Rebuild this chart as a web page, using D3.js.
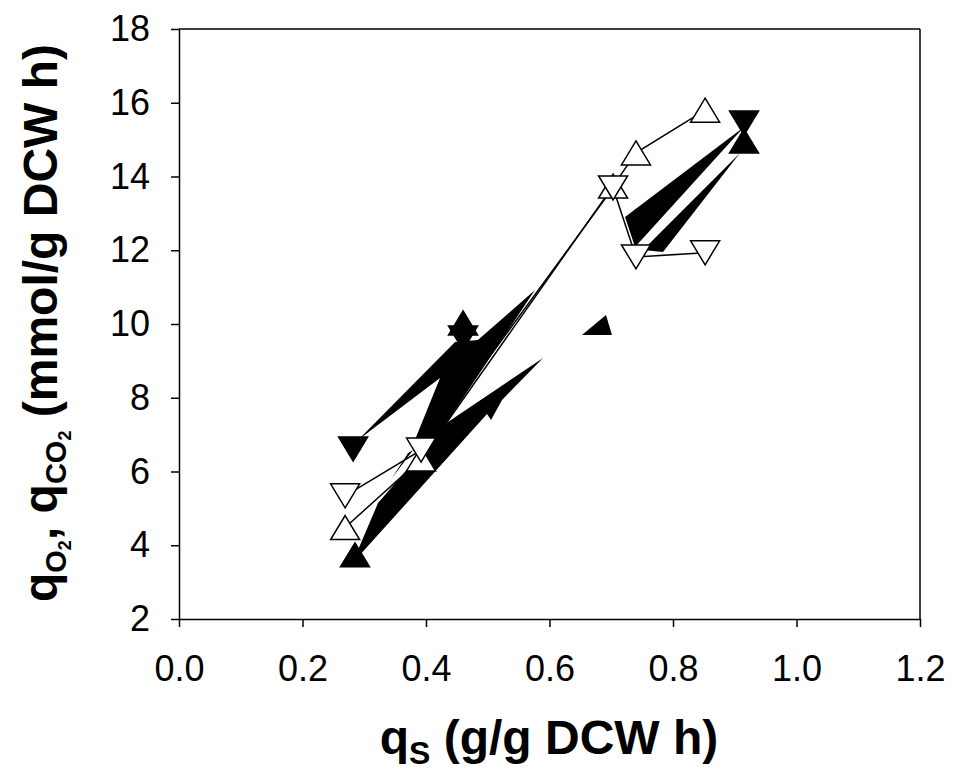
<!DOCTYPE html>
<html><head><meta charset="utf-8">
<script src="https://cdn.jsdelivr.net/npm/d3@7"></script>
<style>body{margin:0;background:#fff}</style>
</head><body><svg id="c" width="956" height="770"></svg>
<script>
// ---- data ----
const xTicks = [0, 0.2, 0.4, 0.6, 0.8, 1.0, 1.2];
const yTicks = [2, 4, 6, 8, 10, 12, 14, 16, 18];

const openUpX   = [0.269, 0.392, 0.703, 0.740, 0.852];
const openUpY   = [4.48, 6.34, 13.74, 14.64, 15.80];
const openDownX = [0.269, 0.392, 0.703, 0.740, 0.852];
const openDownY = [5.34, 6.58, 13.69, 11.82, 11.93];

const filledUpX   = [0.285, 0.460, 0.915];
const filledUpY   = [3.74, 10.03, 14.96];
const filledDownX = [0.282, 0.460, 0.915];
const filledDownY = [6.61, 9.62, 15.45];

// connecting "lines" of the filled series, as rendered (filled wedges), vertices in data units
const filledDownPatches = [
  [[0.290,6.854],[0.447,9.512],[0.484,9.566],[0.5765,10.922],[0.4146,6.854],[0.382,6.854],[0.4227,8.536]],
  [[0.371,6.502],[0.345,5.824],[0.379,6.583]],
  [[0.915,15.342],[0.7223,12.902],[0.7385,12.088]]
];
const filledUpPatches = [
  [[0.285,3.681],[0.3223,5.146],[0.4356,7.342],[0.5895,9.078],[0.5231,7.939],[0.5053,7.397],[0.4988,7.559],[0.2899,3.681]],
  [[0.6526,9.702],[0.6915,10.244],[0.7012,9.702]],
  [[0.9085,14.637],[0.7514,12.007],[0.7838,11.953]]
];

// ---- chart ----
const svg = d3.select("#c");
const x = d3.scaleLinear().domain([0, 1.2]).range([179, 920]);
const y = d3.scaleLinear().domain([2, 18]).range([619, 29]);
const FONT = "'Liberation Sans', Arial, sans-serif";

// frame (top, right)
svg.append("line").attr("x1", x(0)).attr("x2", x(1.2)).attr("y1", y(18)).attr("y2", y(18))
  .attr("stroke", "#000").attr("stroke-width", 1.5);
svg.append("line").attr("x1", x(1.2)).attr("x2", x(1.2)).attr("y1", y(18)).attr("y2", y(2))
  .attr("stroke", "#000").attr("stroke-width", 1.5);

const gx = svg.append("g").attr("transform", `translate(0,${y(2)})`)
  .call(d3.axisBottom(x).tickValues(xTicks).tickSize(8).tickSizeOuter(0).tickPadding(28).tickFormat(d3.format(".1f")));
const gy = svg.append("g").attr("transform", `translate(${x(0)},0)`)
  .call(d3.axisLeft(y).tickValues(yTicks).tickSize(8).tickSizeOuter(0).tickPadding(21).tickFormat(d3.format("d")));
[gx, gy].forEach(g => {
  g.selectAll("path,line").attr("stroke", "#000").attr("stroke-width", 1.5);
  g.selectAll("text").attr("fill", "#000").style("font-family", FONT).style("font-size", "36px");
});

// filled wedge "lines"
const poly = d3.line().x(d => x(d[0])).y(d => y(d[1]));
svg.append("g").selectAll("path").data(filledDownPatches.concat(filledUpPatches)).join("path")
  .attr("d", d => poly(d) + "Z").attr("fill", "#000").attr("stroke", "none");

// open series lines
function series(xs, ys) { return xs.map((v, i) => [v, ys[i]]); }
const ln = d3.line().x(d => x(d[0])).y(d => y(d[1]));
[series(openUpX, openUpY), series(openDownX, openDownY)].forEach(s => {
  svg.append("path").attr("d", ln(s)).attr("fill", "none").attr("stroke", "#000").attr("stroke-width", 1.5);
});

// markers
const HW = 14.5, HH = 12;
function tri(up) {
  return up ? `M0,${-HH}L${HW},${HH}L${-HW},${HH}Z` : `M0,${HH}L${HW},${-HH}L${-HW},${-HH}Z`;
}
function markers(xs, ys, up, fill) {
  svg.append("g").selectAll("path").data(series(xs, ys)).join("path")
    .attr("transform", d => `translate(${x(d[0])},${y(d[1])})`)
    .attr("d", tri(up)).attr("fill", fill).attr("stroke", "#000").attr("stroke-width", 1.5);
}
markers(filledUpX, filledUpY, true, "#000");
markers(filledDownX, filledDownY, false, "#000");
markers(openUpX, openUpY, true, "#fff");
markers(openDownX, openDownY, false, "#fff");

// axis titles
const xt = svg.append("text").attr("x", 549).attr("y", 754).attr("text-anchor", "middle")
  .style("font-family", FONT).style("font-weight", "bold").style("font-size", "48px");
xt.append("tspan").text("q");
xt.append("tspan").attr("dy", 10).style("font-size", "32px").text("S");
xt.append("tspan").attr("dy", -10).text(" (g/g DCW h)");

const yt = svg.append("text").attr("transform", "translate(57,323) rotate(-90)").attr("text-anchor", "middle")
  .style("font-family", FONT).style("font-weight", "bold").style("font-size", "48px");
yt.append("tspan").text("q");
yt.append("tspan").attr("dy", 9).style("font-size", "29px").text("O");
yt.append("tspan").attr("dy", 5).style("font-size", "18px").text("2");
yt.append("tspan").attr("dy", -14).text(", q");
yt.append("tspan").attr("dy", 9).style("font-size", "29px").text("CO");
yt.append("tspan").attr("dy", 5).style("font-size", "18px").text("2");
yt.append("tspan").attr("dy", -14).text(" (mmol/g DCW h)");
</script></body></html>
